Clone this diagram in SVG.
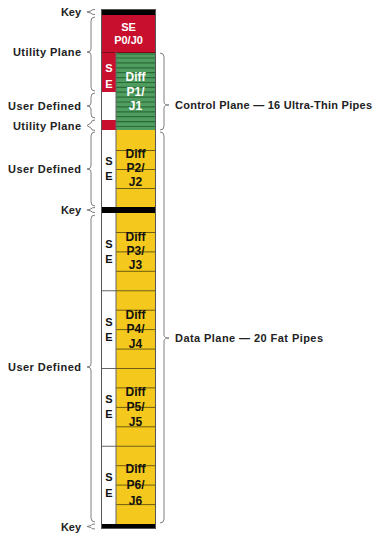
<svg xmlns="http://www.w3.org/2000/svg" width="380" height="534" viewBox="0 0 380 534">
<style>
text{font-family:"Liberation Sans",Arial,sans-serif;font-weight:bold;font-size:11px}
.lbl{text-anchor:end;fill:#222}
.rl{fill:#222}
.w{fill:#fff;text-anchor:middle}
.k{fill:#111;text-anchor:middle}
.big{font-size:12px}
.red{fill:#C8102E}
.grn{fill:#4F9E5F}
.yel{fill:#F4C81C}
.blk{fill:#000}
.gl{stroke:#2A6A38;stroke-width:1.2}
.yl{stroke:#6E5E10;stroke-width:1}
.br{fill:none;stroke:#808080;stroke-width:1}
.div{stroke:#666;stroke-width:1}
</style>
<rect x="0" y="0" width="380" height="534" fill="#fff"/>

<g id="key-top"><rect class="blk" x="101" y="9" width="55" height="6"/></g>
<g id="se-p0-j0">
<rect class="red" x="101" y="15" width="55" height="37"/>
<text class="w" x="128.5" y="31">SE</text>
<text class="w" x="128.5" y="44">P0/J0</text>
</g>
<g id="se-strip-1">
<rect class="red" x="101" y="52" width="15" height="40"/>
<rect fill="#fff" x="101" y="92" width="15" height="28"/>
<rect class="red" x="101" y="120" width="15" height="10"/>
<line x1="101" y1="52.5" x2="156" y2="52.5" stroke="#7a0a1a" stroke-width="1"/>
<text class="w" x="109" y="72">S</text>
<text class="w" x="109" y="88">E</text>
</g>
<g id="diff-p1-j1">
<rect class="grn" x="116" y="53" width="40" height="77"/>
<g class="gl">
<line x1="116" y1="54" x2="156" y2="54"/><line x1="116" y1="58" x2="156" y2="58"/>
<line x1="116" y1="62.9" x2="156" y2="62.9"/><line x1="116" y1="67.8" x2="156" y2="67.8"/>
<line x1="116" y1="72.7" x2="156" y2="72.7"/><line x1="116" y1="77.6" x2="156" y2="77.6"/>
<line x1="116" y1="82.5" x2="156" y2="82.5"/><line x1="116" y1="87.4" x2="156" y2="87.4"/>
<line x1="116" y1="92.2" x2="156" y2="92.2"/><line x1="116" y1="97.1" x2="156" y2="97.1"/>
<line x1="116" y1="102" x2="156" y2="102"/><line x1="116" y1="106.9" x2="156" y2="106.9"/>
<line x1="116" y1="111.8" x2="156" y2="111.8"/><line x1="116" y1="116.7" x2="156" y2="116.7"/>
<line x1="116" y1="121.6" x2="156" y2="121.6"/><line x1="116" y1="126.5" x2="156" y2="126.5"/>
</g>
<line class="div" x1="116" y1="52" x2="116" y2="130"/>
<text class="w big" x="135.5" y="81">Diff</text>
<text class="w big" x="135.5" y="95.5">P1/</text>
<text class="w big" x="135.5" y="110">J1</text>
</g>
<g id="diff-p2-j2">
<rect fill="#fff" x="101" y="130" width="15" height="77"/>
<rect class="yel" x="116" y="130" width="40" height="77"/>
<g class="yl"><line x1="116" y1="150.5" x2="156" y2="150.5"/><line x1="116" y1="169.5" x2="156" y2="169.5"/><line x1="116" y1="188.5" x2="156" y2="188.5"/></g>
<text class="k" x="109" y="165">S</text>
<text class="k" x="109" y="180">E</text>
<text class="k big" x="135.5" y="158">Diff</text>
<text class="k big" x="135.5" y="172">P2/</text>
<text class="k big" x="135.5" y="186">J2</text>
</g>
<g id="key-mid"><rect class="blk" x="101" y="207" width="55" height="6"/></g>
<g id="diff-p3-j3">
<rect fill="#fff" x="101" y="213" width="15" height="77.75"/>
<rect class="yel" x="116" y="213" width="40" height="77.75"/>
<g class="yl"><line x1="116" y1="232.5" x2="156" y2="232.5"/><line x1="116" y1="251.9" x2="156" y2="251.9"/><line x1="116" y1="271.3" x2="156" y2="271.3"/></g>
<text class="k" x="109" y="248">S</text>
<text class="k" x="109" y="263">E</text>
<text class="k big" x="135.5" y="241">Diff</text>
<text class="k big" x="135.5" y="255">P3/</text>
<text class="k big" x="135.5" y="269">J3</text>
</g>
<g id="diff-p4-j4">
<rect fill="#fff" x="101" y="290.75" width="15" height="77.75"/>
<rect class="yel" x="116" y="290.75" width="40" height="77.75"/>
<g class="yl"><line x1="116" y1="310.2" x2="156" y2="310.2"/><line x1="116" y1="329.6" x2="156" y2="329.6"/><line x1="116" y1="349.1" x2="156" y2="349.1"/></g>
<text class="k" x="109" y="326">S</text>
<text class="k" x="109" y="341">E</text>
<text class="k big" x="135.5" y="318.5">Diff</text>
<text class="k big" x="135.5" y="333">P4/</text>
<text class="k big" x="135.5" y="347.5">J4</text>
</g>
<g id="diff-p5-j5">
<rect fill="#fff" x="101" y="368.5" width="15" height="77.75"/>
<rect class="yel" x="116" y="368.5" width="40" height="77.75"/>
<g class="yl"><line x1="116" y1="387.9" x2="156" y2="387.9"/><line x1="116" y1="407.4" x2="156" y2="407.4"/><line x1="116" y1="426.8" x2="156" y2="426.8"/></g>
<text class="k" x="109" y="402.5">S</text>
<text class="k" x="109" y="417.5">E</text>
<text class="k big" x="135.5" y="396">Diff</text>
<text class="k big" x="135.5" y="411">P5/</text>
<text class="k big" x="135.5" y="426">J5</text>
</g>
<g id="diff-p6-j6">
<rect fill="#fff" x="101" y="446.25" width="15" height="77.75"/>
<rect class="yel" x="116" y="446.25" width="40" height="77.75"/>
<g class="yl"><line x1="116" y1="465.7" x2="156" y2="465.7"/><line x1="116" y1="485.1" x2="156" y2="485.1"/><line x1="116" y1="504.6" x2="156" y2="504.6"/></g>
<text class="k" x="109" y="481">S</text>
<text class="k" x="109" y="497">E</text>
<text class="k big" x="135.5" y="473">Diff</text>
<text class="k big" x="135.5" y="489">P6/</text>
<text class="k big" x="135.5" y="504.5">J6</text>
</g>
<g id="key-bottom"><rect class="blk" x="101" y="524" width="55" height="5"/></g>

<g id="column-lines">
<g class="yl"><line x1="116" y1="290.75" x2="156" y2="290.75"/><line x1="116" y1="368.5" x2="156" y2="368.5"/><line x1="116" y1="446.25" x2="156" y2="446.25"/></g>
<g class="div">
<line x1="101" y1="290.75" x2="116" y2="290.75"/><line x1="101" y1="368.5" x2="116" y2="368.5"/><line x1="101" y1="446.25" x2="116" y2="446.25"/>
<line x1="116" y1="130" x2="116" y2="207"/><line x1="116" y1="213" x2="116" y2="524"/>
</g>
<rect x="101.5" y="9.5" width="54" height="519" fill="none" stroke="#555" stroke-width="1"/>
</g>

<g id="connectors" class="br">
<path d="M95,9.5 Q91,9.5 91,11 L87,12 L91,13 Q91,14.5 95,14.5"/>
<path d="M95,17 Q91,17 91,21 L91,49 Q91,52 87,52 Q91,52 91,55 L91,87 Q91,91 95,91"/>
<path d="M95,93 Q91,93 91,97 L91,103 Q91,106 87,106 Q91,106 91,109 L91,114 Q91,118 95,118"/>
<path d="M95,120 Q91,120 91,123 L87,125.5 L91,128 Q91,130.5 95,130.5"/>
<path d="M95,132 Q91,132 91,136 L91,166 Q91,169 87,169 Q91,169 91,172 L91,202 Q91,206 95,206"/>
<path d="M95,207.5 Q91,207.5 91,209 L87,210 L91,211 Q91,212.5 95,212.5"/>
<path d="M95,215 Q91,215 91,219 L91,364 Q91,367 87,367 Q91,367 91,370 L91,518 Q91,522 95,522"/>
<path d="M95,524 Q91,524 91,525.5 L87,526.5 L91,527.5 Q91,529 95,529"/>
<path d="M160,53 Q164,53 164,57 L164,102 Q164,105 169,105 Q164,105 164,108 L164,126 Q164,130 160,130"/>
<path d="M160,132 Q164,132 164,136 L164,335 Q164,338 169,338 Q164,338 164,341 L164,519 Q164,523 160,523"/>
</g>

<g id="labels">
<text class="lbl" x="81" y="16" textLength="20">Key</text>
<text class="lbl" x="81" y="56" textLength="68">Utility Plane</text>
<text class="lbl" x="81" y="110" textLength="73">User Defined</text>
<text class="lbl" x="81" y="130" textLength="68">Utility Plane</text>
<text class="lbl" x="81" y="173" textLength="73">User Defined</text>
<text class="lbl" x="81" y="214" textLength="20">Key</text>
<text class="lbl" x="81" y="371" textLength="73">User Defined</text>
<text class="lbl" x="81" y="531" textLength="20">Key</text>
<text class="rl" x="175" y="109" textLength="197">Control Plane — 16 Ultra-Thin Pipes</text>
<text class="rl" x="175" y="342" textLength="148">Data Plane — 20 Fat Pipes</text>
</g>
</svg>
